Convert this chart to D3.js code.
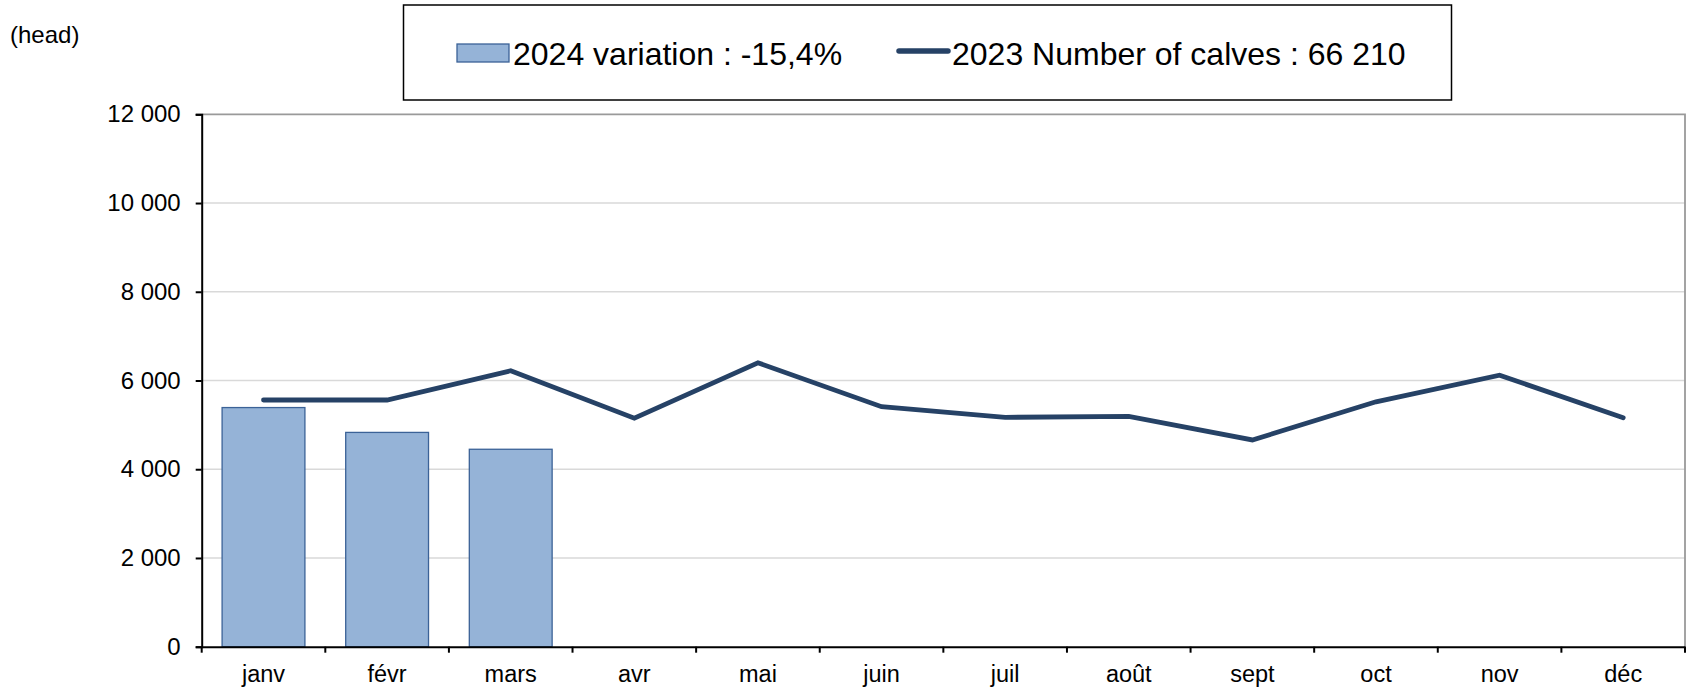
<!DOCTYPE html>
<html>
<head>
<meta charset="utf-8">
<script src="https://cdn.jsdelivr.net/npm/d3@7"></script>
<style>
  html, body { margin: 0; padding: 0; background: #fff; }
  svg { display: block; font-family: "Liberation Sans", Arial, sans-serif; }
</style>
</head>
<body>
<svg id="chart" width="1694" height="688"></svg>
<script>
// ---- data ----
const months = ["janv", "févr", "mars", "avr", "mai", "juin", "juil", "août", "sept", "oct", "nov", "déc"];
const bars2024 = [5390, 4830, 4450];
const line2023 = [5560, 5560, 6220, 5150, 6400, 5410, 5170, 5190, 4660, 5520, 6120, 5160];
const yTicks = [0, 2000, 4000, 6000, 8000, 10000, 12000];
const barLegendLabel = "2024 variation : -15,4%";
const lineLegendLabel = "2023 Number of calves : 66 210";
const unitLabel = "(head)";

// ---- layout ----
const plot = { left: 201.7, right: 1685, top: 114.3, bottom: 646.7 };
const svg = d3.select("#chart");

const x = d3.scaleBand().domain(months).range([plot.left, plot.right]).padding(0);
const xBar = d3.scaleBand().domain(months).range([plot.left, plot.right])
  .paddingInner(0.33).paddingOuter(0.165);
const y = d3.scaleLinear().domain([0, 12000]).range([plot.bottom, plot.top]);

const loc = d3.formatLocale({ decimal: ",", thousands: " ", grouping: [3], currency: ["", ""] });
const fmt = loc.format(",d");

// gridlines
svg.append("g").selectAll("line").data(yTicks.filter(d => d > 0 && d < 12000)).join("line")
  .attr("x1", plot.left).attr("x2", plot.right)
  .attr("y1", d => y(d)).attr("y2", d => y(d))
  .attr("stroke", "#d9d9d9").attr("stroke-width", 1.5);

// plot border top/right
svg.append("path")
  .attr("d", `M${plot.left},${y(12000)}H${plot.right}V${plot.bottom}`)
  .attr("fill", "none").attr("stroke", "#9a9a9a").attr("stroke-width", 1.8);

// bars
svg.append("g").selectAll("rect").data(bars2024).join("rect")
  .attr("x", (d, i) => xBar(months[i]))
  .attr("width", xBar.bandwidth())
  .attr("y", d => y(d))
  .attr("height", d => y(0) - y(d))
  .attr("fill", "#95b3d7").attr("stroke", "#3b6297").attr("stroke-width", 1.3);

// y axis
const yAxis = d3.axisLeft(y).tickValues(yTicks).tickFormat(fmt).tickSize(6).tickPadding(15);
const gy = svg.append("g").attr("transform", `translate(${plot.left},0)`).call(yAxis);
gy.select(".domain").attr("stroke", "#000").attr("stroke-width", 2);
gy.selectAll(".tick line").attr("stroke", "#000").attr("stroke-width", 2);
gy.selectAll("text").attr("font-size", 24).attr("fill", "#000")
  .attr("font-family", "Liberation Sans, Arial, sans-serif");

// x axis
const xAxis = d3.axisBottom(x).tickSize(0).tickPadding(19);
const gx = svg.append("g").attr("transform", `translate(0,${plot.bottom})`).call(xAxis);
gx.select(".domain").attr("stroke", "#000").attr("stroke-width", 2);
gx.selectAll("text").attr("font-size", 23.5).attr("fill", "#000")
  .attr("font-family", "Liberation Sans, Arial, sans-serif");
// boundary ticks
const bounds = months.map(m => x(m)).concat([x(months[months.length - 1]) + x.bandwidth()]);
gx.selectAll("line.bt").data(bounds).join("line").attr("class", "bt")
  .attr("x1", d => d).attr("x2", d => d).attr("y1", 0).attr("y2", 6)
  .attr("stroke", "#000").attr("stroke-width", 2);

// line
const line = d3.line()
  .x((d, i) => x(months[i]) + x.bandwidth() / 2)
  .y(d => y(d));
svg.append("path").datum(line2023)
  .attr("d", line)
  .attr("fill", "none").attr("stroke", "#264266").attr("stroke-width", 4.8)
  .attr("stroke-linecap", "round").attr("stroke-linejoin", "miter");

// unit label
svg.append("text").attr("x", 10).attr("y", 43).attr("font-size", 24).attr("fill", "#000").text(unitLabel);

// legend
const lg = svg.append("g");
lg.append("rect").attr("x", 403.5).attr("y", 5).attr("width", 1048).attr("height", 95)
  .attr("fill", "#fff").attr("stroke", "#000").attr("stroke-width", 1.5);
lg.append("rect").attr("x", 457).attr("y", 44).attr("width", 52).attr("height", 18)
  .attr("fill", "#95b3d7").attr("stroke", "#3b6297").attr("stroke-width", 1.3);
lg.append("text").attr("x", 513).attr("y", 65).attr("font-size", 32).attr("fill", "#000").text(barLegendLabel);
lg.append("line").attr("x1", 899).attr("x2", 948).attr("y1", 51).attr("y2", 51)
  .attr("stroke", "#264266").attr("stroke-width", 5.5).attr("stroke-linecap", "round");
lg.append("text").attr("x", 952).attr("y", 65).attr("font-size", 32).attr("fill", "#000").text(lineLegendLabel);
</script>
</body>
</html>
